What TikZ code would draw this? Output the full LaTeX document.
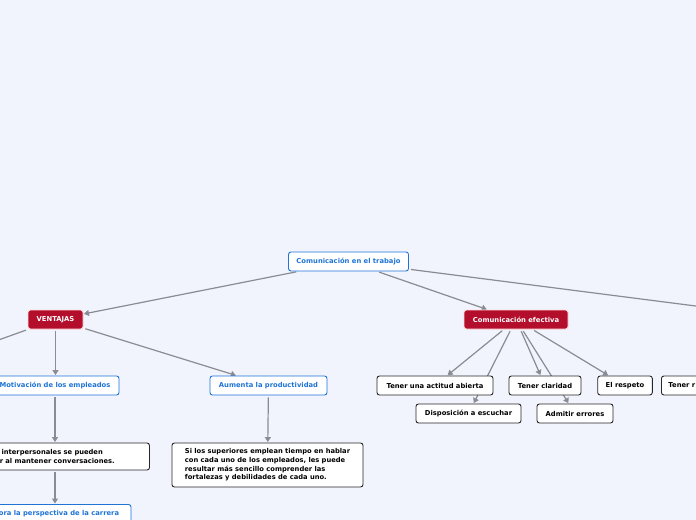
\documentclass[tikz,border=0pt]{standalone}
\usepackage{fontspec}
\newfontfamily\mapfont{DejaVu Sans}
\usetikzlibrary{arrows.meta,positioning,backgrounds}
\definecolor{bgblue}{HTML}{F2F4FD}
\definecolor{topicred}{HTML}{B30F2C}
\definecolor{topicblue}{HTML}{1F74D6}
\definecolor{edgegray}{HTML}{8A8B93}
\tikzset{
  topic/.style={draw=topicblue, fill=white, text=topicblue, rounded corners=2.5bp, line width=0.9bp, minimum height=19bp, inner xsep=8bp, inner ysep=2bp, font=\mapfont\bfseries\fontsize{6.8}{8}\selectfont},
  main/.style={topic, draw=red!15, fill=topicred, text=white},
  leaf/.style={topic, draw=black!85, text=black},
  note/.style={leaf, align=left, inner xsep=7bp, font=\mapfont\bfseries\fontsize{6.75}{8.6}\selectfont},
  link/.style={-{Triangle[length=5bp,width=6bp]}, draw=edgegray, line width=1.2bp, shorten <=2bp, shorten >=0.5bp}
}
\begin{document}
\begin{tikzpicture}[x=1bp,y=-1bp]
  \begin{scope}[on background layer]
    \fill[bgblue] (0,0) rectangle (696,520);
  \end{scope}
  \useasboundingbox (0,0) rectangle (696,520);
  \clip (0,0) rectangle (696,520);
  % centre and first level
  \node[topic] (root) at (348.5,261.5) {Comunicación en el trabajo};
  \node[main, minimum width=55bp] (vent) at (55.5,319.5) {VENTAJAS};
  \node[main, minimum width=104bp] (efec) at (516,319.5) {Comunicación efectiva};
  \coordinate (rest) at (801,319.5);
  \coordinate (otra) at (-128,385.5);
  % ventajas
  \node[topic, minimum width=128bp] (moti) at (55,385.5) {Motivación de los empleados};
  \node[topic, minimum width=117bp] (prod) at (268.5,385.5) {Aumenta la productividad};
  \node[note, minimum width=189bp, minimum height=27bp] (rela) at (55,456.5) {s interpersonales se pueden\\er al mantener conversaciones.};
  \node[note, minimum width=191bp, minimum height=44bp] (supe) at (267.5,465) {Si los superiores emplean tiempo en hablar\\con cada uno de los empleados, les puede\\resultar más sencillo comprender las\\fortalezas y debilidades de cada uno.};
  \node[topic, minimum width=152bp, anchor=north] (pers) at (55,504) {\hspace*{8bp}ora la perspectiva de la carrera};
  % comunicacion efectiva
  \node[leaf, minimum width=116bp] (abie) at (435,385.5) {Tener una actitud abierta};
  \node[leaf, minimum width=72bp] (clar) at (545,385.5) {Tener claridad};
  \node[leaf, minimum width=54bp] (resp) at (625,385.5) {El respeto};
  \node[leaf, anchor=west, text width=60bp, align=left, inner xsep=7bp] (tene) at (661,385.5) {Tener r};
  \node[leaf, minimum width=105bp] (escu) at (468.5,413.5) {Disposición a escuchar};
  \node[leaf, minimum width=76bp] (erro) at (575,413.5) {Admitir errores};
  % links, kept under the boxes
  \begin{scope}[on background layer]
    \draw[link] (root) -- (vent);
    \draw[link] (root) -- (efec);
    \draw[link] (root) -- (rest);
    \draw[link] (vent) -- (otra);
    \draw[link] (vent.south) -- (vent.south |- moti.north);
    \draw[link] (vent) -- (prod);
    \draw[link] (moti) -- (rela);
    \draw[link] (rela) -- (pers);
    \draw[link] (prod) -- (supe);
    \foreach \t in {abie,escu,clar,erro,resp}
      \draw[link] (efec) -- (\t);
  \end{scope}
\end{tikzpicture}
\end{document}
